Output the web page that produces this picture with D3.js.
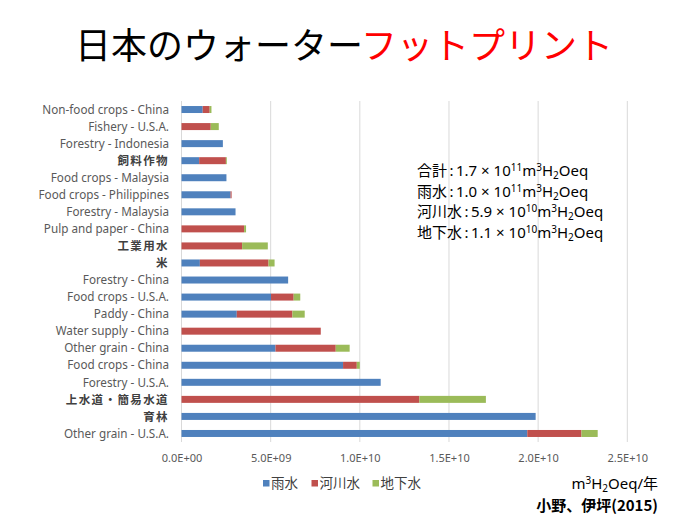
<!DOCTYPE html>
<html>
<head>
<meta charset="utf-8">
<script src="https://cdn.jsdelivr.net/npm/d3@7"></script>
<style>
  html, body { margin: 0; padding: 0; background: #fff; }
  svg { display: block; }
</style>
</head>
<body>
<svg id="chart" width="690" height="517"></svg>
<script>
// ---- data (top to bottom) ----
const categories = [
  "Non-food crops - China", "Fishery - U.S.A.", "Forestry - Indonesia", "飼料作物",
  "Food crops - Malaysia", "Food crops - Philippines", "Forestry - Malaysia",
  "Pulp and paper - China", "工業用水", "米", "Forestry - China", "Food crops - U.S.A.",
  "Paddy - China", "Water supply - China", "Other grain - China", "Food crops - China",
  "Forestry - U.S.A.", "上水道・簡易水道", "育林", "Other grain - U.S.A."
];
const rainWater   = [1.19e9, 0, 2.32e9, 0.99e9, 2.52e9, 2.75e9, 3.03e9, 0, 0, 1.03e9, 5.98e9, 5.02e9, 3.10e9, 0, 5.27e9, 9.06e9, 11.17e9, 0, 19.86e9, 19.39e9];
const riverWater  = [0.39e9, 1.64e9, 0, 1.50e9, 0, 0.06e9, 0, 3.51e9, 3.40e9, 3.85e9, 0, 1.27e9, 3.12e9, 7.81e9, 3.38e9, 0.77e9, 0, 13.34e9, 0, 3.04e9];
const groundWater = [0.10e9, 0.45e9, 0, 0.05e9, 0, 0, 0, 0.11e9, 1.44e9, 0.34e9, 0, 0.37e9, 0.69e9, 0, 0.78e9, 0.17e9, 0, 3.73e9, 0, 0.91e9];
const seriesNames = ["雨水", "河川水", "地下水"];
const seriesColors = ["#4F81BD", "#C0504D", "#9BBB59"];
const xTicks = [0, 5e9, 1e10, 1.5e10, 2e10, 2.5e10];
const totals = [
  ["合計", "1.7", "11"],
  ["雨水", "1.0", "11"],
  ["河川水", "5.9", "10"],
  ["地下水", "1.1", "10"]
];

// ---- build ----
const svg = d3.select("#chart");
const cjk = "'Noto Sans CJK JP', 'Noto Sans', sans-serif";
const latin = "'Noto Sans', 'Noto Sans CJK JP', sans-serif";

const rows = categories.map((c, i) => ({ cat: c, rain: rainWater[i], river: riverWater[i], ground: groundWater[i] }));
const keys = ["rain", "river", "ground"];
const stack = d3.stack().keys(keys)(rows);

const x = d3.scaleLinear().domain([0, 2.5e10]).range([181.5, 627.3]);
const y = d3.scaleBand().domain(categories).range([101, 442]).paddingInner(0.59).paddingOuter(0.295);

// title
const title = svg.append("text").attr("x", 344).attr("y", 59).attr("text-anchor", "middle")
  .style("font-family", cjk).style("font-size", "36px");
title.append("tspan").attr("fill", "#000").text("日本のウォーター");
title.append("tspan").attr("fill", "#FF0000").text("フットプリント");

// gridlines
svg.append("g").selectAll("line").data(xTicks).join("line")
  .attr("x1", d => x(d)).attr("x2", d => x(d))
  .attr("y1", 101).attr("y2", 442)
  .attr("stroke", "#D9D9D9").attr("stroke-width", 1);

// bars
svg.append("g").selectAll("g").data(stack).join("g")
  .attr("fill", (d, i) => seriesColors[i])
  .selectAll("rect").data(d => d).join("rect")
  .attr("x", d => x(d[0]))
  .attr("width", d => Math.max(0, x(d[1]) - x(d[0])))
  .attr("y", d => y(d.data.cat))
  .attr("height", y.bandwidth());

// y labels
const isCJK = s => /[\u3000-\u9fff]/.test(s);
svg.append("g").selectAll("text").data(categories).join("text")
  .attr("x", 169)
  .attr("y", d => y(d) + y.bandwidth() / 2)
  .attr("dy", "0.36em")
  .attr("text-anchor", "end")
  .style("font-family", d => isCJK(d) ? cjk : latin)
  .style("font-size", d => isCJK(d) ? "11.5px" : "11.7px")
  .style("letter-spacing", d => isCJK(d) ? "1.4px" : "0px")
  .style("font-weight", d => isCJK(d) ? "bold" : "normal")
  .attr("fill", d => isCJK(d) ? "#404040" : "#595959")
  .text(d => d);

// x tick labels
const fmt = v => {
  const [m, e] = v.toExponential(1).split("e");
  const n = parseInt(e, 10);
  return m + "E" + (n < 0 ? "-" : "+") + String(Math.abs(n)).padStart(2, "0");
};
const xAxis = d3.axisBottom(x).tickValues(xTicks).tickFormat(fmt).tickSize(0).tickPadding(0);
const ax = svg.append("g").attr("transform", "translate(0,454)").call(xAxis);
ax.select(".domain").remove();
ax.selectAll("text").style("font-family", latin).style("font-size", "11px").attr("fill", "#595959");

// annotation
const ann = svg.append("g").style("font-family", cjk).style("font-size", "15px").attr("fill", "#000");
totals.forEach((t, i) => {
  const tx = ann.append("text").attr("x", 417).attr("y", 176 + i * 20.5);
  tx.append("tspan").text(t[0]);
  tx.append("tspan").style("font-family", latin).text("\u2009:\u2009" + t[1] + " × 10");
  tx.append("tspan").style("font-family", latin).style("font-size", "10px").attr("dy", -5).text(t[2]);
  tx.append("tspan").style("font-family", latin).attr("dy", 5).text("m");
  tx.append("tspan").style("font-family", latin).style("font-size", "10px").attr("dy", -5).text("3");
  tx.append("tspan").style("font-family", latin).attr("dy", 5).text("H");
  tx.append("tspan").style("font-family", latin).style("font-size", "10px").attr("dy", 3).text("2");
  tx.append("tspan").style("font-family", latin).attr("dy", -3).text("Oeq");
});

// legend
const lg = svg.append("g");
const legendX = [263, 311.5, 372.5];
seriesNames.forEach((n, i) => {
  lg.append("rect").attr("x", legendX[i]).attr("y", 480).attr("width", 6.5).attr("height", 6.5).attr("fill", seriesColors[i]);
  lg.append("text").attr("x", legendX[i] + 8).attr("y", 488).style("font-family", cjk).style("font-size", "13.5px")
    .attr("fill", "#404040").text(n);
});

// unit & source
const unit = svg.append("text").attr("x", 658).attr("y", 489).attr("text-anchor", "end")
  .style("font-family", latin).style("font-size", "15px").attr("fill", "#000");
unit.append("tspan").text("m");
unit.append("tspan").style("font-size", "10px").attr("dy", -5).text("3");
unit.append("tspan").attr("dy", 5).text("H");
unit.append("tspan").style("font-size", "10px").attr("dy", 3).text("2");
unit.append("tspan").attr("dy", -3).text("Oeq/");
unit.append("tspan").style("font-family", cjk).text("年");

svg.append("text").attr("x", 658).attr("y", 511).attr("text-anchor", "end")
  .style("font-family", cjk).style("font-size", "15px").style("font-weight", "bold").attr("fill", "#000")
  .text("小野、伊坪(2015)");
</script>
</body>
</html>
